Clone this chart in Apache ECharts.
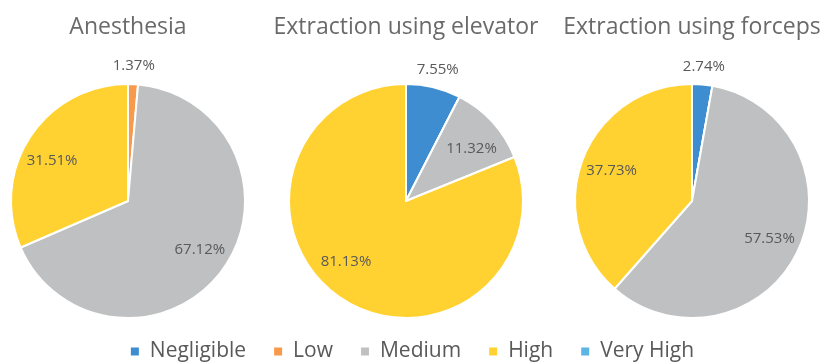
<!DOCTYPE html>
<html><head><meta charset="utf-8">
<script src="https://cdn.jsdelivr.net/npm/echarts@6/dist/echarts.min.js"></script>
<style>html,body{margin:0;padding:0;background:#fff}#c{width:823px;height:364px}</style>
</head><body><div id="c"></div>
<script>
const categories = ['Negligible', 'Low', 'Medium', 'High', 'Very High'];
const titles = ['Anesthesia', 'Extraction using elevator', 'Extraction using forceps'];
const anesthesia = [0, 1.37, 67.12, 31.51, 0];
const elevator = [7.55, 0, 11.32, 81.13, 0];
const forceps = [2.74, 0, 57.53, 37.73, 0];
const colors = ['#3E8DD0', '#F79A4C', '#BFC0C1', '#FFD232', '#5DB4E4'];

const FONT = '"Open Sans", "Noto Sans", sans-serif';
const pies = [anesthesia, elevator, forceps];
const centersX = [128, 406, 692];
const cy = 201, R = 117;
// small label nudges (pixels) mimicking the reference's "best fit" label placement
const labelNudge = {'0-3': [-4, 7], '0-2': [2, -2], '1-2': [2, 6], '1-3': [-12, -11]};

const series = [];
const titleOpts = [];
pies.forEach((vals, i) => {
  titleOpts.push({
    text: titles[i], left: centersX[i], top: 16, textAlign: 'center', padding: 0,
    textStyle: {fontFamily: FONT, fontSize: 23, fontWeight: 'normal', color: '#6a6a6a'}
  });
  series.push({
    type: 'pie', center: [centersX[i], cy], radius: R, silent: true,
    startAngle: 90, clockwise: true, animation: false,
    label: {show: false}, labelLine: {show: false},
    itemStyle: {borderColor: '#fff', borderWidth: 2},
    data: categories.map((c, k) => ({name: c, value: vals[k], itemStyle: {color: colors[k]}}))
  });
});
// transparent label rings place the data labels as in the reference
pies.forEach((vals, i) => {
  [[49, R, v => v >= 8], [R, 147, v => v > 0 && v < 8]].forEach(([r0, r1, test]) => {
    series.push({
      type: 'pie', center: [centersX[i], cy], radius: [r0, r1], silent: true,
      startAngle: 90, clockwise: true, animation: false,
      itemStyle: {color: 'transparent', borderWidth: 0},
      labelLine: {show: false},
      label: {position: 'inside', fontFamily: FONT, fontSize: 15, color: '#595959',
        formatter: p => p.value.toFixed(2) + '%'},
      data: categories.map((c, k) => ({
        name: c, value: vals[k],
        label: {show: test(vals[k]), offset: labelNudge[i + '-' + k] || [0, 0]}
      }))
    });
  });
});

const chart = echarts.init(document.getElementById('c'), null, {renderer: 'canvas'});
chart.setOption({
  animation: false,
  title: titleOpts,
  legend: {
    bottom: 2, left: 'center', padding: 0, itemWidth: 10, itemHeight: 10, itemGap: 26,
    icon: 'rect', selectedMode: false,
    textStyle: {fontFamily: FONT, fontSize: 21, color: '#595959', padding: [0, 0, 0, 5]},
    data: categories.map((c, k) => ({name: c, itemStyle: {color: colors[k]}}))
  },
  series: series
});
</script></body></html>
